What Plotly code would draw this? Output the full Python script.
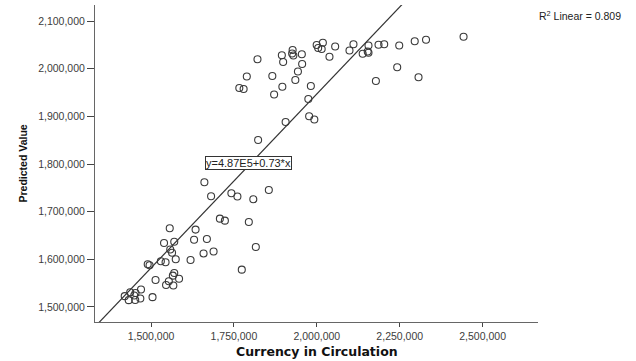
import plotly.graph_objects as go

# Currency in Circulation (x) vs Predicted Value (y)
currency = [
    1821000, 1788800, 1766200, 1779200, 1865800, 1871200, 1894500, 1898400, 1896000,
    1927000, 1925500, 1929200, 1954800, 1955700, 1943000, 1935200, 1982000, 1974400,
    1905900, 1976800, 1992500, 1822900, 1999500, 2004000, 2014600, 2018200, 2055300,
    2038100, 2098500, 2110500, 2138300, 2153400, 2155800, 2155800, 2186000, 2203200,
    2248500, 2295200, 2329300, 2442500, 2242400, 2178100, 2306700,
    1660900, 1681100, 1742300, 1760500, 1808400, 1855200, 1707600, 1722700, 1794900,
    1556400, 1634300, 1539200, 1570000, 1629800, 1668400, 1557900, 1563400, 1658400,
    1688600, 1816000, 1490000, 1495500, 1529600, 1543800, 1574500, 1619200, 1773700,
    1513600, 1570000, 1565800, 1545300, 1553700, 1567300, 1584500, 1504500, 1420600,
    1437200, 1453200, 1469800, 1432700, 1452300, 1467700, 1449300,
]
predicted = [
    2019700, 1983600, 1959500, 1957400, 1984600, 1945800, 2028300, 2014000, 1962200,
    2039200, 2031800, 2027600, 2030200, 2009800, 1994100, 1976200, 1963700, 1936400,
    1888100, 1900100, 1893400, 1850400, 2049700, 2043400, 2041300, 2054500, 2046500,
    2024900, 2038100, 2051100, 2031400, 2036000, 2033300, 2048600, 2050100, 2051100,
    2048600, 2057600, 2060800, 2066900, 2003100, 1974100, 1982100,
    1761600, 1732200, 1738500, 1731800, 1726000, 1745500, 1685300, 1681100, 1678300,
    1665300, 1662400, 1634300, 1636800, 1641200, 1642700, 1620600, 1613900, 1612200,
    1616400, 1625900, 1589600, 1587700, 1595900, 1594000, 1600100, 1598600, 1578300,
    1556600, 1571300, 1565700, 1546200, 1553900, 1545100, 1559200, 1520600, 1522700,
    1530800, 1529400, 1536700, 1514300, 1514700, 1517800, 1524100,
]

fit_intercept = 4.87e5
fit_slope = 0.73
r_squared = 0.809

x_ticks = [1500000, 1750000, 2000000, 2250000, 2500000]
y_ticks = [1500000, 1600000, 1700000, 1800000, 1900000, 2000000, 2100000]
x_range = [1331000, 2667000]
y_range = [1468500, 2133600]
x_title = "Currency in Circulation"
y_title = "Predicted Value"

# fit line spanning the x range (clipped by axes)
line_x = [x_range[0], x_range[1]]
line_y = [fit_intercept + fit_slope * v for v in line_x]

fig = go.Figure()
fig.add_trace(go.Scatter(
    x=line_x, y=line_y, mode="lines",
    line=dict(color="#333333", width=1.2),
    hoverinfo="skip", showlegend=False,
))
fig.add_trace(go.Scatter(
    x=currency, y=predicted, mode="markers",
    marker=dict(symbol="circle-open", size=7, color="#3a3a3a", line=dict(width=1.1)),
    showlegend=False,
))

tick_font = dict(family="Liberation Sans, Arial, sans-serif", size=10.5, color="#3c3c3c")

fig.update_xaxes(
    range=x_range, tickvals=x_ticks, tickformat=",d", automargin=False,
    showgrid=False, zeroline=False, showline=True, linecolor="#666666", linewidth=1,
    ticks="outside", ticklen=4, tickcolor="#444444", tickwidth=1,
    tickfont=tick_font,
)
fig.update_yaxes(
    range=y_range, tickvals=y_ticks, tickformat=",d", automargin=False,
    showgrid=False, zeroline=False, showline=True, linecolor="#666666", linewidth=1,
    ticks="outside", ticklen=7, tickcolor="#444444", tickwidth=1,
    tickfont=tick_font,
)

fig.add_annotation(
    x=0.5, y=0, xref="paper", yref="paper", xanchor="center", yanchor="top",
    yshift=-20, text="<b>%s</b>" % x_title, showarrow=False,
    font=dict(family="DejaVu Sans, Verdana, sans-serif", size=12.5, color="#111111"),
)
fig.add_annotation(
    x=0, y=0.5, xref="paper", yref="paper", xanchor="center", yanchor="middle",
    xshift=-73, textangle=-90, text="<b>%s</b>" % y_title, showarrow=False,
    font=dict(family="Liberation Sans, Arial, sans-serif", size=10.5, color="#111111"),
)
fig.add_annotation(
    x=1792700, y=1801100, xref="x", yref="y",
    text="y=4.87E5+0.73*x", showarrow=False,
    font=dict(family="Liberation Sans, Arial, sans-serif", size=11, color="#222222"),
    bordercolor="#333333", borderwidth=1, borderpad=0, bgcolor="white",
)
fig.add_annotation(
    x=1.193, y=1.0, xref="paper", yref="paper", xanchor="right", yanchor="top",
    yshift=-2,
    text="R<sup>2</sup> Linear = %.3f" % r_squared, showarrow=False,
    font=dict(family="Liberation Sans, Arial, sans-serif", size=10.5, color="#222222"),
)

fig.update_layout(
    width=636, height=361,
    margin=dict(l=95, r=98, t=5, b=39),
    paper_bgcolor="white", plot_bgcolor="white",
)

fig.write_html(
    "out.html",
    config={"displayModeBar": False},
    post_script="document.body.style.margin='0';document.body.style.overflow='hidden';",
)
